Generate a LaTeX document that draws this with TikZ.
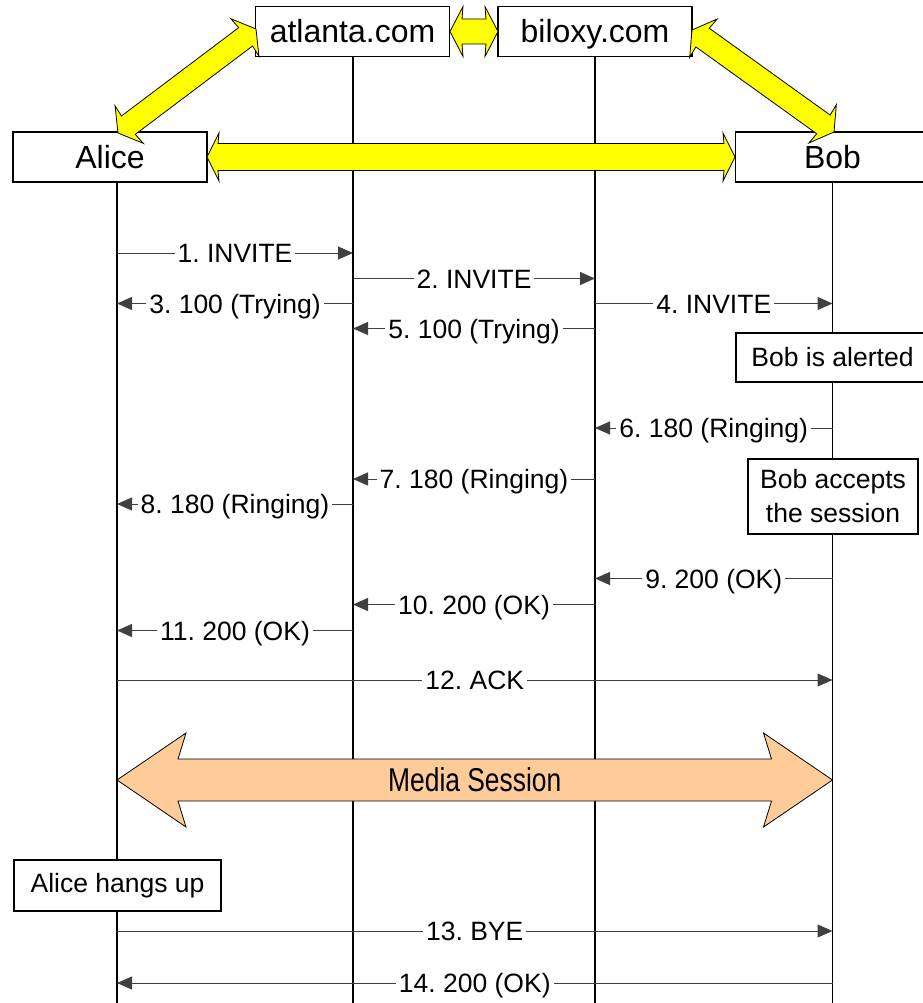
\documentclass[tikz,border=0pt]{standalone}
\usepackage{fontspec}
\setmainfont{Liberation Sans}
\usetikzlibrary{arrows.meta,calc}
\definecolor{fatyellow}{HTML}{FFFF00}
\definecolor{peach}{HTML}{FFCC99}
\definecolor{msggray}{HTML}{404040}
\frenchspacing
% fat double arrow between two named points
% #1 P, #2 Q, #3 head length at shaft, #4 head length at barbs, #5 head half width, #6 shaft half width, #7 style
\newcommand\fatarrow[7]{%
  \draw[#7] (#1)
    -- ($(#1)!#4!(#2)!#5!90:(#2)$)
    -- ($(#1)!#3!(#2)!#6!90:(#2)$)
    -- ($(#2)!#3!(#1)!#6!-90:(#1)$)
    -- ($(#2)!#4!(#1)!#5!-90:(#1)$)
    -- (#2)
    -- ($(#2)!#4!(#1)!#5!90:(#1)$)
    -- ($(#2)!#3!(#1)!#6!90:(#1)$)
    -- ($(#1)!#3!(#2)!#6!-90:(#2)$)
    -- ($(#1)!#4!(#2)!#5!-90:(#2)$)
    -- cycle;}
\begin{document}
\begin{tikzpicture}[x=1pt,y=-1pt,
  bigbox/.style={draw=black,line width=1.4pt,fill=white,inner sep=0pt,
    minimum width=194pt,minimum height=50pt,
    font=\fontsize{32}{36}\selectfont,text height=23pt,text depth=0pt},
  notebox/.style={draw=black,line width=1.4pt,fill=white,inner sep=0pt,
    font=\fontsize{26.5}{34}\selectfont},
  lifeline/.style={line width=1.5pt,black},
  msg/.style={line width=1pt,msggray,-{Triangle[length=15pt,width=13pt]}},
  lbl/.style={fill=white,text=black,inner xsep=3pt,inner ysep=2pt,
    font=\fontsize{26.5}{30}\selectfont,text height=19pt,text depth=0pt},
  fatyel/.style={draw=black,line width=0.8pt,fill=fatyellow,line join=miter},
  fatpeach/.style={draw=black,line width=0.8pt,fill=peach,line join=miter}
]
\useasboundingbox (0,0) rectangle (922,1003);

% lifelines
\coordinate (A) at (117,182);
\coordinate (T) at (353,57);
\coordinate (L) at (595,57);
\coordinate (B) at (832.5,182);
\coordinate (Aend) at (117,1010);
\coordinate (Tend) at (353,1010);
\coordinate (Lend) at (595,1010);
\coordinate (Bend) at (832.5,1010);
\draw[lifeline] (A) -- (Aend);
\draw[lifeline] (T) -- (Tend);
\draw[lifeline] (L) -- (Lend);
\draw[lifeline] (B) -- (Bend);

% participant boxes
\node[bigbox] (atlanta) at (352.5,31.5) {atlanta.com};
\node[bigbox] (biloxy) at (595,31.5) {biloxy.com};
\node[bigbox] (alice) at (110,157) {Alice};
\node[bigbox] (bob) at (832.5,157) {Bob};

% fat yellow arrows
\coordinate (ya1) at (118,133);
\coordinate (ya2) at (256,29);
\coordinate (yb1) at (450,31.5);
\coordinate (yb2) at (498,31.5);
\coordinate (yc1) at (692,30);
\coordinate (yc2) at (834,132);
\coordinate (yd1) at (207,157);
\coordinate (yd2) at (735,157);
\fatarrow{ya1}{ya2}{13pt}{14pt}{23.5pt}{11.5pt}{fatyel}
\fatarrow{yb1}{yb2}{12pt}{13pt}{25pt}{12.5pt}{fatyel}
\fatarrow{yc1}{yc2}{13pt}{14pt}{23.5pt}{11.5pt}{fatyel}
\fatarrow{yd1}{yd2}{11pt}{12pt}{24pt}{13.5pt}{fatyel}

% notes
\node[notebox,minimum width=193pt,minimum height=49pt] (alerted) at (832.5,357.5) {Bob is alerted};
\node[notebox,minimum width=170pt,minimum height=75pt,align=center] (accepts) at (833,496.5) {Bob accepts\\the session};
\node[notebox,minimum width=207pt,minimum height=51pt] (hangup) at (117.5,885.5) {Alice hangs up};

% messages
\foreach \f/\t/\y/\l in {
  A/T/253/{1. INVITE},
  T/L/278.5/{2. INVITE},
  T/A/303.5/{3. 100 (Trying)},
  L/B/303.5/{4. INVITE},
  L/T/328.5/{5. 100 (Trying)},
  B/L/428/{6. 180 (Ringing)},
  L/T/479/{7. 180 (Ringing)},
  T/A/504/{8. 180 (Ringing)},
  B/L/578.5/{9. 200 (OK)},
  L/T/604.5/{10. 200 (OK)},
  T/A/630.5/{11. 200 (OK)},
  A/B/680/{12. ACK},
  A/B/931/{13. BYE},
  B/A/983/{14. 200 (OK)}}
  \draw[msg] (\f |- 0,\y) -- (\t |- 0,\y) node[lbl,midway] {\l};

% media session
\coordinate (ms1) at (117,780);
\coordinate (ms2) at (832.5,780);
\fatarrow{ms1}{ms2}{61pt}{69pt}{47pt}{21pt}{fatpeach}
\node[font=\fontsize{33}{36}\selectfont,inner sep=0pt] (media) at ($(ms1)!0.5!(ms2)$) {\scalebox{0.8}[1]{Media Session}};
\end{tikzpicture}
\end{document}
